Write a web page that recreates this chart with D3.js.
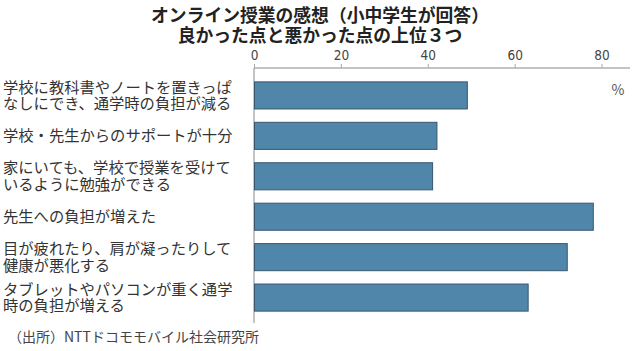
<!DOCTYPE html>
<html>
<head>
<meta charset="utf-8">
<script src="https://cdn.jsdelivr.net/npm/d3@7"></script>
<style>
  body { margin: 0; background: #fff; }
  text { font-family: "Noto Sans CJK JP", "Noto Sans", sans-serif; }
</style>
</head>
<body>
<div id="chart"></div>
<script>
const titleLines = ["オンライン授業の感想（小中学生が回答）", "良かった点と悪かった点の上位３つ"];
const categories = [
    ["学校に教科書やノートを置きっぱ", "なしにでき、通学時の負担が減る"],
    ["学校・先生からのサポートが十分"],
    ["家にいても、学校で授業を受けて", "いるように勉強ができる"],
    ["先生への負担が増えた"],
    ["目が疲れたり、肩が凝ったりして", "健康が悪化する"],
    ["タブレットやパソコンが重く通学", "時の負担が増える"]
];
const values = [49, 42, 41, 78, 72, 63];
const ticks = [0, 20, 40, 60, 80];
const unit = "%";
const source = "（出所）NTTドコモモバイル社会研究所";

const W = 638, H = 351;
const svg = d3.select("#chart").append("svg")
    .attr("width", W).attr("height", H);

const x = d3.scaleLinear().domain([0, 80]).range([254, 601.5]);
const y = d3.scaleBand().domain(d3.range(categories.length))
    .range([75, 318]).paddingInner(0.33).paddingOuter(0.17);

// title
svg.append("g").selectAll("text")
    .data(titleLines)
    .join("text")
    .attr("x", 320)
    .attr("y", (d, i) => 22 + i * 20)
    .attr("text-anchor", "middle")
    .attr("font-size", 17.8)
    .attr("font-weight", "bold")
    .attr("fill", "#222")
    .text(d => d);

// axis on top
const axis = d3.axisTop(x).tickValues(ticks).tickSize(4).tickSizeOuter(0);
const gx = svg.append("g").attr("transform", "translate(0,68)").call(axis);
gx.select(".domain").attr("d", `M${x(0)},0H630`).attr("stroke", "#888");
gx.selectAll(".tick line").attr("stroke", "#aaa");
gx.selectAll(".tick text")
    .attr("font-size", 13.5)
    .attr("fill", "#444")
    .attr("dy", "-0.1em")
    .style("font-family", "'Liberation Sans Narrow', 'DejaVu Sans Condensed', sans-serif");

// vertical baseline
svg.append("line")
    .attr("x1", x(0)).attr("x2", x(0))
    .attr("y1", 68).attr("y2", 323)
    .attr("stroke", "#888");

// bars
svg.append("g").selectAll("rect")
    .data(values)
    .join("rect")
    .attr("x", x(0) + 0.5)
    .attr("y", (d, i) => y(i))
    .attr("width", d => x(d) - x(0))
    .attr("height", y.bandwidth())
    .attr("fill", "#4f86aa")
    .attr("stroke", "#38576f")
    .attr("stroke-width", 1);

// category labels, one text per line
const lh = 16.5;
const labelLines = categories.flatMap((d, i) => d.map((t, j) => ({
    t, cy: y(i) + y.bandwidth() / 2 + (j - (d.length - 1) / 2) * lh
})));
svg.append("g").selectAll("text")
    .data(labelLines)
    .join("text")
    .attr("x", 3)
    .attr("y", d => d.cy)
    .attr("dy", "0.35em")
    .attr("font-size", 15.3)
    .attr("fill", "#333")
    .text(d => d.t);

// unit
svg.append("text")
    .attr("x", 618).attr("y", 95)
    .attr("text-anchor", "middle")
    .attr("font-size", 14)
    .attr("fill", "#555")
    .text(unit);

// source
svg.append("text")
    .attr("x", 8).attr("y", 342)
    .attr("font-size", 14)
    .attr("fill", "#444")
    .text(source);
</script>
</body>
</html>
